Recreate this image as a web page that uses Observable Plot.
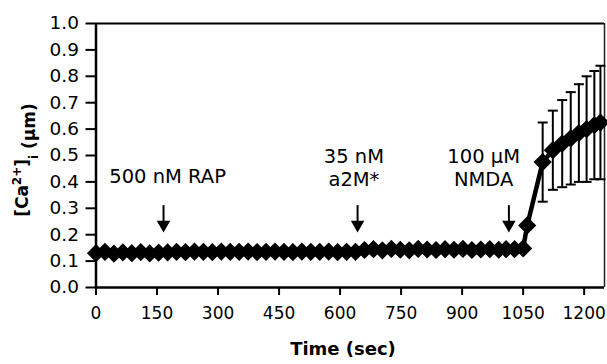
<!DOCTYPE html>
<html>
<head>
<meta charset="utf-8">
<script src="https://cdn.jsdelivr.net/npm/d3@7"></script>
<script src="https://cdn.jsdelivr.net/npm/@observablehq/plot@0.6"></script>
<style>
  html, body { margin: 0; padding: 0; background: #fff; }
  svg { display: block; }
</style>
</head>
<body>
<div id="chart"></div>
<script>
// ---- data ----
const times = [
  0, 22, 44, 66, 88, 110, 132, 154, 176,
  198, 220, 242, 264, 286, 308, 330, 352, 374, 396, 418, 440, 462, 484, 506, 528, 550, 572, 594, 616, 638,
  660, 682, 704, 726, 748, 770, 792, 814, 836, 858, 880, 902, 924, 946, 968, 990,
  1008, 1029, 1050,
  1060, 1098, 1123, 1146, 1167, 1187, 1206, 1225, 1240
];
const values = [
  0.130, 0.135, 0.128, 0.133, 0.130, 0.134, 0.129, 0.132, 0.133,
  0.135, 0.134, 0.136, 0.135, 0.134, 0.136, 0.135, 0.135, 0.136, 0.134, 0.135, 0.136, 0.135, 0.134, 0.136, 0.135, 0.135, 0.136, 0.134, 0.135, 0.135,
  0.142, 0.145, 0.141, 0.146, 0.143, 0.141, 0.146, 0.144, 0.142, 0.145, 0.143, 0.146, 0.142, 0.144, 0.145, 0.143,
  0.145, 0.145, 0.148,
  0.235, 0.475, 0.520, 0.545, 0.565, 0.585, 0.600, 0.615, 0.625
];
// error bars (± values) for the last eight points after NMDA
const riseErrors = [0.150, 0.150, 0.165, 0.175, 0.185, 0.200, 0.205, 0.215];

const xTicks = [0, 150, 300, 450, 600, 750, 900, 1050, 1200];
const yTicks = [0.0, 0.1, 0.2, 0.3, 0.4, 0.5, 0.6, 0.7, 0.8, 0.9, 1.0];

const annotationLabels = ["500 nM RAP", "35 nM\na2M*", "100 μM\nNMDA"];
const annotationTimes = [176, 634, 953];
const annotationValues = [0.424, 0.456, 0.456];
const arrowTimes = [166, 643, 1015];
const arrowTop = 0.31;
const arrowHead = 0.238;

const xTitle = "Time (sec)";
// y title pieces: [Ca 2+ ] i (μm)
const yTitleParts = [
  {text: "[Ca", shift: null},
  {text: "2+", shift: "super"},
  {text: "]", shift: null},
  {text: "i", shift: "sub"},
  {text: " (μm)", shift: null}
];

// ---- build tables ----
const series = times.map((t, i) => ({t, v: values[i]}));
const bars = series.slice(-riseErrors.length).map((d, i) => ({t: d.t, lo: d.v - riseErrors[i], hi: d.v + riseErrors[i]}));
const notes = annotationLabels.map((label, i) => ({label, t: annotationTimes[i], v: annotationValues[i]}));
const arrows = arrowTimes.map(t => ({t}));

const capSymbol = {
  draw(context, size) {
    const r = Math.sqrt(size / Math.PI);
    context.moveTo(-r, 0);
    context.lineTo(r, 0);
  }
};

const font = "'DejaVu Sans', sans-serif";

const chart = Plot.plot({
  width: 607,
  height: 364,
  marginTop: 23,
  marginBottom: 77,
  marginLeft: 95.5,
  marginRight: 3,
  x: {domain: [0, 1250]},
  y: {domain: [0, 1]},
  style: {fontFamily: font, fontSize: "17px", color: "black", background: "white", overflow: "visible"},
  marks: [
    // frame: top and right
    Plot.ruleY([1], {stroke: "black", strokeWidth: 2}),
    Plot.ruleX([1250], {stroke: "#222", strokeWidth: 1.5}),
    // axes
    Plot.axisY({ticks: yTicks, tickSize: 10, tickPadding: 7, tickFormat: d3.format(".1f"), fontSize: 18.5, strokeWidth: 2, label: null}),
    Plot.axisX({ticks: xTicks, tickSize: 8, tickPadding: 11, tickFormat: d => String(d), fontSize: 17, strokeWidth: 2, label: null}),
    Plot.ruleX([0], {stroke: "black", strokeWidth: 2.5}),
    Plot.ruleY([0], {stroke: "black", strokeWidth: 2.5}),
    // error bars
    Plot.ruleX(bars, {x: "t", y1: "lo", y2: "hi", stroke: "black", strokeWidth: 2}),
    Plot.dot(bars, {x: "t", y: "hi", symbol: capSymbol, r: 5, stroke: "black", strokeWidth: 2, fill: "none"}),
    Plot.dot(bars, {x: "t", y: "lo", symbol: capSymbol, r: 5, stroke: "black", strokeWidth: 2, fill: "none"}),
    // series
    Plot.line(series, {x: "t", y: "v", stroke: "black", strokeWidth: 4.5}),
    Plot.dot(series, {x: "t", y: "v", symbol: "diamond2", r: 8.2, fill: "black", stroke: "none"}),
    // arrows
    Plot.ruleX(arrows, {x: "t", y1: arrowTop, y2: arrowHead, stroke: "black", strokeWidth: 2}),
    Plot.dot(arrows, {x: "t", y: arrowHead, symbol: "triangle", rotate: 180, r: 5, fill: "black", stroke: "none"}),
    // annotations
    Plot.text(notes, {x: "t", y: "v", text: "label", fontSize: 19.5, lineHeight: 1.18, textAnchor: "middle", lineAnchor: "middle", fill: "black"})
  ]
});

const svg = d3.select(chart);
// x axis title
svg.append("text")
  .attr("x", 343).attr("y", 355)
  .attr("text-anchor", "middle")
  .attr("font-family", font)
  .attr("font-weight", "bold")
  .attr("font-size", 18)
  .attr("fill", "black")
  .text(xTitle);
// y axis title with super/subscript
const yt = svg.append("text")
  .attr("transform", "translate(28,160) rotate(-90)")
  .attr("text-anchor", "middle")
  .attr("font-family", font)
  .attr("font-weight", "bold")
  .attr("font-size", 17)
  .attr("fill", "black");
yTitleParts.forEach(p => {
  const ts = yt.append("tspan").text(p.text);
  if (p.shift === "super") ts.attr("font-size", 12).attr("dy", -7);
  else if (p.shift === "sub") ts.attr("font-size", 12).attr("dy", 10);
  else if (p.text === "]") ts.attr("dy", 7);
  else if (p.text === " (μm)") ts.attr("dy", -3);
});

document.getElementById("chart").appendChild(chart);
</script>
</body>
</html>
